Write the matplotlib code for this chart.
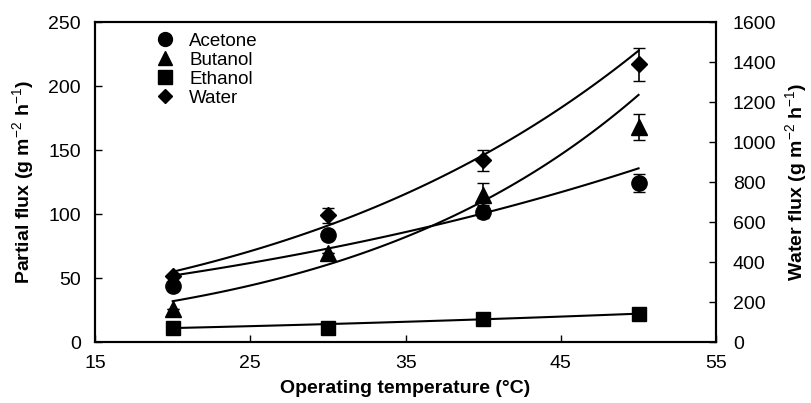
import matplotlib
matplotlib.use("Agg")
import matplotlib.pyplot as plt
from matplotlib.lines import Line2D
import numpy as np

plt.rcParams['font.family'] = ['Liberation Sans', 'DejaVu Sans']
plt.rcParams['mathtext.fontset'] = 'custom'
plt.rcParams['mathtext.rm'] = 'Liberation Sans'
plt.rcParams['mathtext.bf'] = 'Liberation Sans:bold'

# measured points (operating temperature, degC)
temp = [20, 30, 40, 50]
acetone = [44, 84, 102, 124]
acetone_err = [0, 0, 5, 7]
butanol = [26, 70, 115, 168]
butanol_err = [0, 0, 9, 10]
ethanol = [11, 11, 18, 22]
ethanol_err = [0, 0, 0, 0]
water = [333, 634, 909, 1390]      # right axis
water_err = [0, 38, 52, 83]

# Arrhenius fit lines: flux at 20 degC and activation energy (kJ/mol)
fit_j20 = {'Acetone': 52, 'Butanol': 32, 'Ethanol': 11.0, 'Water': 352}
fit_ea = {'Acetone': 25.2, 'Butanol': 47.2, 'Ethanol': 18.5, 'Water': 37.3}

R = 8.314e-3
tt = np.linspace(20, 50, 100)


def arrhenius(name):
    return fit_j20[name] * np.exp(-fit_ea[name] / R * (1 / (tt + 273.15) - 1 / 293.15))


fig = plt.figure(figsize=(8.12, 4.03), dpi=100)
ax = fig.add_axes([0.117, 0.151, 0.765, 0.794])
ax2 = ax.twinx()

ms = 11
ax.errorbar(temp, acetone, yerr=acetone_err, fmt='o', color='black', ms=ms, capsize=4, elinewidth=1.2)
ax.errorbar(temp, butanol, yerr=butanol_err, fmt='^', color='black', ms=ms, capsize=4, elinewidth=1.2)
ax.errorbar(temp, ethanol, yerr=ethanol_err, fmt='s', color='black', ms=ms - 0.5, capsize=4, elinewidth=1.2)
ax2.errorbar(temp, water, yerr=water_err, fmt='D', color='black', ms=ms - 2.5, capsize=4, elinewidth=1.2)

for name in ['Acetone', 'Butanol', 'Ethanol']:
    ax.plot(tt, arrhenius(name), color='black', lw=1.5)
ax2.plot(tt, arrhenius('Water'), color='black', lw=1.5)

ax.set_xlim(15, 55)
ax.set_ylim(0, 250)
ax2.set_ylim(0, 1600)
ax.set_xticks([15, 25, 35, 45, 55])
ax.set_yticks(np.arange(0, 251, 50))
ax2.set_yticks(np.arange(0, 1601, 200))

for a in (ax, ax2):
    a.tick_params(direction='in', labelsize=14, length=5, width=1)
    for s in a.spines.values():
        s.set_linewidth(1.5)
ax.tick_params(axis='x', pad=9)
ax.tick_params(axis='y', pad=10)
ax2.tick_params(axis='y', pad=12)

ax.set_xlabel('Operating temperature (°C)', fontsize=14, fontweight='bold', labelpad=6)
ax.set_ylabel(r'Partial flux (g m$^{-2}$ h$^{-1}$)', fontsize=14, fontweight='bold', labelpad=8)
ax2.set_ylabel(r'Water flux (g m$^{-2}$ h$^{-1}$)', fontsize=14, fontweight='bold', labelpad=5)

names = ['Acetone', 'Butanol', 'Ethanol', 'Water']
marks = ['o', '^', 's', 'D']
sizes = [10, 10, 9.5, 7.5]
handles = [Line2D([], [], ls='none', marker=m, color='black', ms=s) for m, s in zip(marks, sizes)]
ax.legend(handles, names, loc='upper left', bbox_to_anchor=(0.07, 1.02), frameon=False,
          fontsize=13.5, handletextpad=0.8, labelspacing=0.1, handlelength=1.0)

fig.savefig('out.png', dpi=100)
